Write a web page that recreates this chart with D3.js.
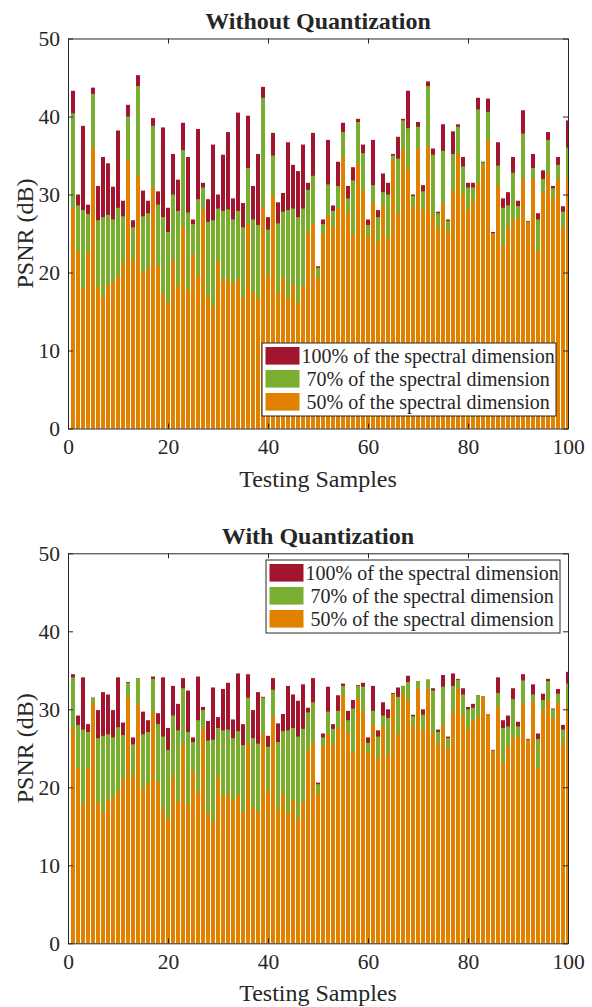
<!DOCTYPE html>
<html>
<head>
<meta charset="utf-8">
<script src="https://cdn.jsdelivr.net/npm/d3@7"></script>
<style>
  body { margin: 0; background: #fff; }
  text { font-family: "Liberation Serif", "Times New Roman", serif; fill: #262626; }
</style>
</head>
<body>
<div id="chart"></div>
<script>
// PSNR of every testing sample (dB)
var samples = d3.range(1, 101);

// Without quantization
var noQ100 = [43.3, 30.0, 38.8, 28.7, 43.7, 31.1, 34.8, 34.0, 31.0, 38.2,
  29.2, 41.5, 26.7, 45.3, 30.5, 29.2, 39.8, 30.4, 38.6, 28.3,
  35.2, 31.9, 39.2, 34.8, 26.8, 38.4, 31.5, 29.4, 36.4, 30.0,
  35.1, 38.0, 29.5, 40.5, 28.9, 40.1, 31.1, 35.2, 43.8, 27.1,
  37.9, 29.0, 30.2, 36.7, 33.8, 33.0, 36.4, 31.5, 37.9, 20.8,
  26.8, 37.0, 28.6, 34.2, 39.2, 31.1, 33.5, 39.7, 36.4, 26.8,
  37.0, 28.0, 32.7, 31.5, 35.2, 37.4, 39.7, 43.3, 30.0, 39.3,
  31.2, 44.5, 35.9, 27.8, 39.0, 26.8, 38.1, 39.0, 34.8, 31.5,
  31.5, 42.4, 34.2, 42.3, 25.2, 36.7, 29.5, 30.3, 34.8, 29.2,
  40.8, 26.6, 35.2, 27.6, 33.1, 38.0, 31.1, 34.8, 28.5, 39.5];
var noQ70 = [40.4, 28.6, 28.0, 27.5, 42.9, 26.7, 27.1, 27.4, 26.8, 28.3,
  27.2, 40.0, 25.8, 43.9, 27.2, 27.6, 38.8, 28.7, 27.1, 25.2,
  30.0, 27.9, 35.7, 27.7, 26.2, 29.4, 30.9, 26.5, 26.7, 28.2,
  27.9, 28.1, 26.8, 27.9, 25.8, 33.4, 26.8, 26.1, 42.4, 25.5,
  35.0, 26.3, 27.8, 28.0, 28.2, 27.1, 28.2, 30.6, 32.4, 20.6,
  26.2, 31.3, 27.9, 31.1, 38.0, 29.5, 31.8, 39.3, 35.3, 26.1,
  31.2, 27.1, 30.3, 30.0, 35.0, 34.6, 39.5, 38.5, 29.8, 38.7,
  30.4, 43.9, 35.1, 27.6, 35.6, 26.6, 35.2, 38.7, 33.6, 30.9,
  30.9, 40.9, 34.1, 40.6, 25.0, 33.7, 28.3, 28.6, 32.8, 28.5,
  37.8, 26.5, 33.4, 26.8, 32.0, 37.0, 30.8, 33.8, 27.8, 36.0];
var noQ50 = [28.3, 22.7, 18.0, 22.6, 36.0, 18.2, 17.0, 18.5, 18.8, 19.6,
  21.2, 34.4, 21.7, 32.5, 20.0, 20.6, 30.9, 20.9, 17.4, 16.1,
  21.6, 18.3, 25.9, 17.8, 22.3, 19.6, 28.1, 17.0, 15.7, 21.5,
  19.0, 19.3, 18.6, 19.2, 16.8, 26.2, 17.6, 16.8, 28.4, 19.7,
  29.9, 17.4, 19.3, 16.8, 18.5, 16.1, 18.2, 25.1, 26.3, 19.3,
  25.0, 27.4, 25.9, 28.3, 34.8, 27.7, 24.9, 34.0, 30.6, 24.7,
  29.0, 24.0, 28.6, 24.5, 34.3, 27.6, 35.7, 33.3, 28.5, 35.9,
  28.0, 36.1, 27.4, 25.8, 28.8, 25.3, 30.6, 35.2, 30.1, 28.1,
  29.2, 31.4, 33.7, 37.0, 25.0, 31.2, 23.5, 25.8, 26.7, 27.0,
  32.0, 26.4, 32.0, 22.7, 30.3, 32.7, 29.6, 32.0, 25.9, 32.1];

// With quantization
var q100 = [34.5, 29.2, 34.1, 28.1, 31.5, 29.9, 32.2, 31.9, 29.9, 34.1,
  28.3, 33.5, 26.4, 34.0, 29.7, 28.6, 34.2, 29.5, 34.1, 27.6,
  33.0, 30.7, 34.0, 32.4, 26.4, 34.2, 30.3, 28.5, 32.8, 29.0,
  32.6, 33.4, 28.7, 34.6, 28.1, 34.5, 29.9, 32.2, 31.6, 26.6,
  34.0, 28.2, 29.4, 33.0, 31.9, 31.1, 33.2, 30.2, 34.0, 20.6,
  26.9, 32.9, 28.1, 31.8, 33.3, 29.8, 31.2, 33.1, 33.4, 26.4,
  33.0, 27.3, 30.9, 30.0, 32.1, 32.8, 33.0, 34.3, 29.3, 33.6,
  30.0, 33.8, 32.7, 27.4, 34.4, 26.5, 34.6, 33.9, 32.7, 30.3,
  30.7, 31.8, 31.7, 29.4, 24.8, 34.1, 28.6, 29.2, 32.7, 28.4,
  34.5, 26.2, 33.2, 26.9, 32.0, 33.9, 30.1, 32.6, 28.0, 34.8];
var q70 = [34.1, 28.0, 27.4, 27.1, 31.5, 26.3, 26.6, 26.8, 26.4, 27.7,
  26.7, 33.4, 25.5, 34.0, 26.8, 27.1, 33.9, 28.1, 26.5, 24.8,
  29.2, 27.3, 32.7, 27.1, 25.8, 28.6, 29.9, 26.0, 26.1, 27.6,
  27.3, 27.4, 26.3, 27.2, 25.4, 31.5, 26.3, 25.6, 31.5, 25.2,
  32.5, 25.8, 27.2, 27.3, 27.6, 26.5, 27.5, 29.6, 30.9, 20.4,
  26.4, 29.7, 27.5, 29.8, 33.0, 28.6, 30.1, 33.0, 32.9, 25.7,
  29.8, 26.5, 29.2, 28.9, 32.0, 31.6, 33.0, 33.5, 29.1, 33.6,
  29.3, 33.8, 32.4, 27.1, 32.9, 26.3, 33.0, 33.8, 31.9, 30.0,
  30.2, 31.8, 31.7, 29.4, 24.7, 32.1, 27.6, 27.8, 31.3, 27.8,
  33.7, 26.1, 31.9, 26.2, 31.2, 33.6, 30.0, 32.0, 27.4, 33.3];
var q50 = [27.6, 22.4, 17.9, 22.4, 30.8, 18.1, 16.8, 18.4, 18.7, 19.5,
  21.0, 31.6, 21.5, 30.6, 19.9, 20.6, 29.7, 20.7, 17.3, 16.0,
  21.5, 18.2, 25.5, 17.8, 22.1, 19.4, 27.6, 16.8, 15.7, 21.4,
  18.9, 19.2, 18.4, 19.1, 16.8, 25.7, 17.5, 16.8, 26.9, 19.5,
  29.1, 17.3, 19.2, 16.7, 18.4, 16.0, 18.1, 24.7, 25.8, 19.2,
  25.3, 26.8, 25.6, 27.6, 31.9, 27.1, 24.5, 31.4, 29.7, 24.5,
  28.1, 23.7, 27.8, 24.2, 31.8, 26.8, 32.1, 31.2, 27.9, 32.7,
  27.3, 32.5, 26.9, 25.5, 28.0, 25.0, 29.7, 32.6, 29.3, 27.5,
  28.6, 29.0, 31.6, 29.4, 24.7, 30.3, 23.2, 25.3, 26.3, 26.5,
  30.6, 26.0, 31.0, 22.5, 29.8, 31.2, 28.9, 30.8, 25.6, 30.3];

var seriesNames = ["100% of the spectral dimension", " 70% of the spectral dimension", " 50% of the spectral dimension"];
var seriesColors = ["#A3152F", "#79AE31", "#E08200"];
var xTicks = [0, 20, 40, 60, 80, 100];
var yTicks = [0, 10, 20, 30, 40, 50];

var svgWidth = 592;
var svgHeight = 1007;

var svg = d3.select("#chart")
  .append("svg")
  .attr("width", svgWidth)
  .attr("height", svgHeight);

var plotLeft = 68, plotRight = 568, plotHeight = 390;

var xScale = d3.scaleLinear().domain([0, 100]).range([plotLeft, plotRight]);
var barWidth = (xScale(1) - xScale(0)) * 0.8;

function drawPanel(id, top, title, seriesList, legendPos) {
  var yScale = d3.scaleLinear().domain([0, 50]).range([top + plotHeight, top]);
  var g = svg.append("g");

  g.append("clipPath").attr("id", "clip" + id)
    .append("rect")
    .attr("x", plotLeft).attr("y", top)
    .attr("width", plotRight - plotLeft).attr("height", plotHeight);

  var bars = g.append("g").attr("clip-path", "url(#clip" + id + ")");

  // back to front: 100%, 70%, 50%
  seriesList.forEach(function(vals, k) {
    bars.selectAll(null)
      .data(samples)
      .enter()
      .append("rect")
      .attr("x", d => xScale(d) - barWidth / 2)
      .attr("width", barWidth)
      .attr("y", (d, i) => yScale(vals[i]))
      .attr("height", (d, i) => yScale(0) - yScale(vals[i]))
      .attr("fill", seriesColors[k]);
  });

  // axes, ticks pointing inwards
  var bottomAxis = d3.axisBottom(xScale).tickValues(xTicks).tickSizeInner(-5).tickSizeOuter(0).tickPadding(10);
  var topAxis = d3.axisTop(xScale).tickValues(xTicks).tickSizeInner(-5).tickSizeOuter(0).tickFormat("");
  var leftAxis = d3.axisLeft(yScale).tickValues(yTicks).tickSizeInner(-5).tickSizeOuter(0).tickPadding(8);
  var rightAxis = d3.axisRight(yScale).tickValues(yTicks).tickSizeInner(-5).tickSizeOuter(0).tickFormat("");

  var axes = [
    g.append("g").attr("transform", `translate(0, ${top + plotHeight})`).call(bottomAxis),
    g.append("g").attr("transform", `translate(0, ${top})`).call(topAxis),
    g.append("g").attr("transform", `translate(${plotLeft}, 0)`).call(leftAxis),
    g.append("g").attr("transform", `translate(${plotRight}, 0)`).call(rightAxis)
  ];
  axes.forEach(function(a) {
    a.selectAll("path, line").attr("stroke", "#262626").attr("stroke-width", 1);
    a.selectAll("text").attr("font-size", "21.5px").attr("fill", "#262626")
      .style("font-family", "Liberation Serif, serif");
  });

  g.append("text")
    .attr("x", (plotLeft + plotRight) / 2)
    .attr("y", top - 9.5)
    .attr("text-anchor", "middle")
    .attr("font-size", "24px")
    .attr("font-weight", "bold")
    .attr("fill", "#000")
    .text(title);

  g.append("text")
    .attr("x", (plotLeft + plotRight) / 2)
    .attr("y", top + plotHeight + 58)
    .attr("text-anchor", "middle")
    .attr("font-size", "24px")
    .text("Testing Samples");

  g.append("text")
    .attr("transform", `translate(33, ${top + plotHeight / 2}) rotate(-90)`)
    .attr("text-anchor", "middle")
    .attr("font-size", "24px")
    .text("PSNR (dB)");

  // legend
  var lg = g.append("g").attr("transform", `translate(${legendPos[0]}, ${legendPos[1]})`);
  lg.append("rect")
    .attr("width", 294).attr("height", 73)
    .attr("fill", "#fff").attr("stroke", "#262626").attr("stroke-width", 1);
  seriesNames.forEach(function(name, k) {
    lg.append("rect")
      .attr("x", 3.5).attr("y", 4 + k * 23)
      .attr("width", 34).attr("height", 17.6)
      .attr("fill", seriesColors[k]);
    lg.append("text")
      .attr("x", 39.5).attr("y", 19.5 + k * 23)
      .attr("font-size", "20px")
      .style("white-space", "pre")
      .text(name);
  });
}

drawPanel(1, 38.5, "Without Quantization", [noQ100, noQ70, noQ50], [262, 343]);
drawPanel(2, 553.3, "With Quantization", [q100, q70, q50], [266, 560]);
</script>
</body>
</html>
